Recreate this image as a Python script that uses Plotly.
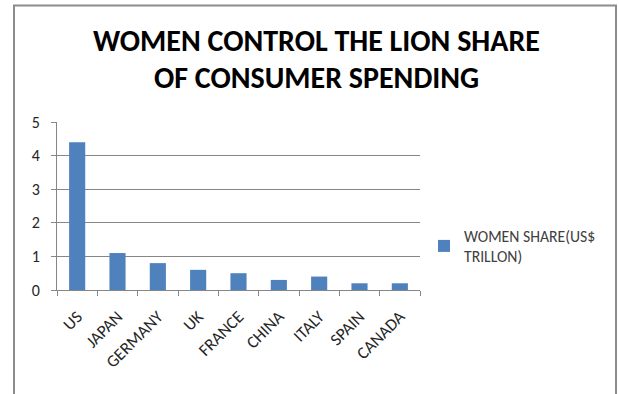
import plotly.graph_objects as go

countries = ["US", "JAPAN", "GERMANY", "UK", "FRANCE", "CHINA", "ITALY", "SPAIN", "CANADA"]
women_share = [4.4, 1.1, 0.8, 0.6, 0.5, 0.3, 0.4, 0.2, 0.2]
series_name = "WOMEN SHARE(US$<br>TRILLON)"
y_ticks = [0, 1, 2, 3, 4, 5]
title_lines = ["WOMEN CONTROL THE LION SHARE", "OF CONSUMER SPENDING"]

W, H = 619, 394
L, R, T, B = 57, 199, 122, 104
pw, ph = W - L - R, H - T - B

def px(x):
    return (x - L) / pw

def py(y):
    return (H - B - y) / ph

font_family = "Carlito, Calibri, 'Open Sans', sans-serif"

fig = go.Figure()
fig.add_trace(go.Bar(
    x=countries, y=women_share, name=series_name,
    marker=dict(color="#4F81BD", line=dict(color="#4F81BD", width=0)),
    showlegend=True,
))

title_ys = [41, 77]
annotations = [dict(text="<b>" + t + "</b>", xref="paper", yref="paper",
                    x=px(316), y=py(yy), xanchor="center", yanchor="middle",
                    showarrow=False, align="center",
                    font=dict(size=30, color="black", family=font_family))
               for t, yy in zip(title_lines, title_ys)]

fig.update_layout(
    width=W, height=H,
    margin=dict(l=L, r=R, t=T, b=B),
    paper_bgcolor="white", plot_bgcolor="white",
    bargap=0.6,
    font=dict(family=font_family, size=15, color="#404040"),
    showlegend=True,
    legend=dict(x=px(424), y=py(219), xanchor="left", yanchor="top",
                font=dict(size=15.7, color="#404040"), itemwidth=30,
                bgcolor="rgba(0,0,0,0)", tracegroupgap=0),
    xaxis=dict(showgrid=False, showline=True, linecolor="#868686", linewidth=1,
               ticks="outside", ticklen=5, tickcolor="#868686",
               tickson="boundaries", tickangle=-45, ticklabelstandoff=9,
               tickfont=dict(size=17, color="#262626")),
    yaxis=dict(range=[0, 5], tickvals=y_ticks, showgrid=True, gridcolor="#868686",
               gridwidth=1, showline=True, linecolor="#868686", linewidth=1,
               ticks="outside", ticklen=5, tickcolor="#868686", zeroline=False,
               ticklabelstandoff=8,
               tickfont=dict(size=16, color="#262626")),
    shapes=[dict(type="rect", xref="paper", yref="paper",
                 x0=px(14), x1=px(616), y0=py(420), y1=py(5.5),
                 line=dict(color="#8c8c8c", width=2), fillcolor="rgba(0,0,0,0)",
                 layer="below")],
    annotations=annotations,
)

fig.write_html("out.html", config={"displayModeBar": False},
               post_script="document.body.style.margin='0';document.body.style.overflow='hidden';")
